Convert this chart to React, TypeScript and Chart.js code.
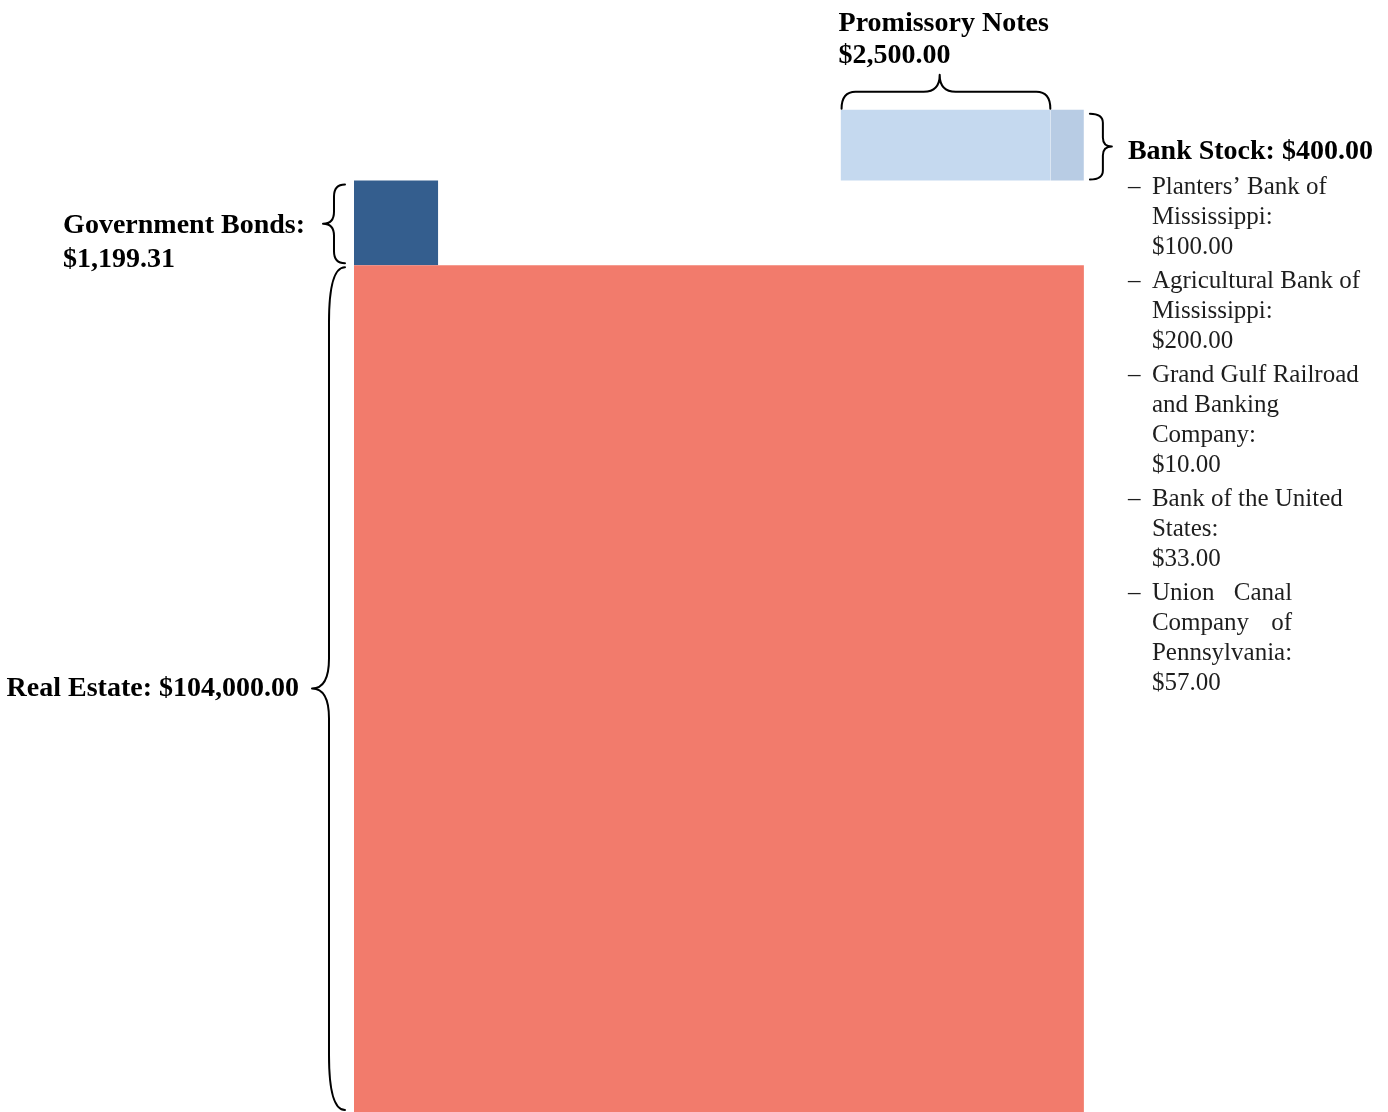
import React, { useEffect, useRef } from 'react';
import { Chart, registerables } from 'chart.js';

Chart.register(...registerables);

// ---------------- data ----------------
const categories = ['Real Estate', 'Government Bonds', 'Promissory Notes', 'Bank Stock'];
const holdingValues = [104000, 1199.31, 2500, 400];

const bankStockLines = [
  ['Planters\u2019 Bank of', 'Mississippi:'],
  ['Agricultural Bank of', 'Mississippi:'],
  ['Grand Gulf Railroad', 'and Banking', 'Company:'],
  ['Bank of the United', 'States:'],
  ['Union Canal', 'Company of', 'Pennsylvania:'],
];
const bankStockValues = [100, 200, 10, 33, 57];
const justifiedBankEntries = [false, false, false, false, true];

// ---------------- styling / layout ----------------
const COLORS = ['#F27B6C', '#345E8E', '#C5D9EF', '#B8CCE4'];
const W = 1388;
const H = 1112;
// area units: 1 unit^2 == $1
const RE_WIDTH = 300;
const TOP_ROW_HEIGHT = 29;
const X_MIN = -145.5;
const X_MAX = 425.0;
const Y_MIN = 0;
const Y_MAX = 455.2;
const FONT = "'Liberation Serif', 'Times New Roman', serif";

function money(v: number) {
  return '$' + v.toLocaleString('en-US', { minimumFractionDigits: 2, maximumFractionDigits: 2 });
}

function computeBlocks() {
  const [re, bonds, notes, bank] = holdingValues;
  const reH = re / RE_WIDTH;
  const side = Math.sqrt(bonds);
  const rowW = (notes + bank) / TOP_ROW_HEIGHT;
  const notesW = notes / TOP_ROW_HEIGHT;
  const rowY0 = reH + side;
  return [
    { x0: 0, x1: RE_WIDTH, y0: 0, y1: reH },
    { x0: 0, x1: side, y0: reH, y1: reH + side },
    { x0: RE_WIDTH - rowW, x1: RE_WIDTH - rowW + notesW, y0: rowY0, y1: rowY0 + TOP_ROW_HEIGHT },
    { x0: RE_WIDTH - rowW + notesW, x1: RE_WIDTH, y0: rowY0, y1: rowY0 + TOP_ROW_HEIGHT },
  ];
}

type Pt = [number, number];

function drawBrace(
  ctx: CanvasRenderingContext2D,
  ax: number, ay: number, bx: number, by: number,
  nx: number, ny: number,
  s: number, t: number, r: number, rt: number, tipFrac = 0.5
): Pt {
  const L = Math.hypot(bx - ax, by - ay);
  const ex = (bx - ax) / L;
  const ey = (by - ay) / L;
  const P = (u: number, v: number): Pt => [ax + u * ex + v * nx, ay + u * ey + v * ny];
  const um = L * tipFrac;
  const q = (c: Pt, e: Pt) => ctx.quadraticCurveTo(c[0], c[1], e[0], e[1]);
  const l = (e: Pt) => ctx.lineTo(e[0], e[1]);
  ctx.save();
  ctx.beginPath();
  const p0 = P(0, 0);
  ctx.moveTo(p0[0], p0[1]);
  q(P(0, s), P(r, s));
  l(P(um - rt, s));
  q(P(um, s), P(um, t));
  q(P(um, s), P(um + rt, s));
  l(P(L - r, s));
  q(P(L, s), P(L, 0));
  ctx.strokeStyle = '#000';
  ctx.lineWidth = 2;
  ctx.lineJoin = 'round';
  ctx.lineCap = 'round';
  ctx.stroke();
  ctx.restore();
  return P(um, t);
}

const blocks = computeBlocks();

const overlayPlugin = {
  id: 'overlayLabels',
  afterDatasetsDraw(chart: any) {
    const { ctx } = chart;
    const xs = chart.scales.x;
    const ys = chart.scales.y;
    const px = blocks.map((b) => ({
      l: xs.getPixelForValue(b.x0),
      r: xs.getPixelForValue(b.x1),
      t: ys.getPixelForValue(b.y1),
      b: ys.getPixelForValue(b.y0),
    }));
    const [re, bo, no, ba] = px;

    // braces
    const reTip = drawBrace(ctx, re.l - 9, re.t + 2, re.l - 9, re.b - 2, -1, 0, 16, 33, 55, 30);
    const boTip = drawBrace(ctx, bo.l - 9, bo.t + 4, bo.l - 9, bo.b - 2, -1, 0, 11, 22, 12, 12);
    const noTip = drawBrace(ctx, no.l + 1, no.t - 1, no.r, no.t - 1, 0, -1, 17, 34, 14, 16, 0.47);
    const baTip = drawBrace(ctx, ba.r + 6, ba.t + 4, ba.r + 6, ba.b - 1, 1, 0, 13, 22, 9, 9);

    ctx.save();
    ctx.fillStyle = '#000';
    ctx.textBaseline = 'middle';
    ctx.font = `bold 28px ${FONT}`;

    // Real estate
    ctx.textAlign = 'right';
    ctx.fillText(`${categories[0]}: ${money(holdingValues[0])}`, reTip[0] - 13, reTip[1]);

    // Government bonds
    ctx.textAlign = 'left';
    const gb1 = `${categories[1]}:`;
    const gbLeft = boTip[0] - 18 - ctx.measureText(gb1).width;
    ctx.fillText(gb1, gbLeft, boTip[1] + 2);
    ctx.fillText(money(holdingValues[1]), gbLeft, boTip[1] + 36);

    // Promissory notes
    ctx.fillText(categories[2], no.l - 2, noTip[1] - 51);
    ctx.fillText(money(holdingValues[2]), no.l - 2, noTip[1] - 19);

    // Bank stock
    const bsLeft = baTip[0] + 16;
    const bsY = baTip[1] + 5;
    ctx.fillText(`${categories[3]}: ${money(holdingValues[3])}`, bsLeft, bsY);

    ctx.font = `25px ${FONT}`;
    ctx.fillStyle = '#1e1e1e';
    let y = bsY + 36;
    bankStockLines.forEach((lines, i) => {
      ctx.textAlign = 'left';
      ctx.fillText('\u2013', bsLeft, y);
      const tx = bsLeft + 24;
      const target = Math.max(...lines.map((ln) => ctx.measureText(ln).width));
      lines.forEach((ln, j) => {
        const words = ln.split(' ');
        if (justifiedBankEntries[i] && j < lines.length - 1 && words.length > 1) {
          const ws = words.map((w) => ctx.measureText(w).width);
          const sum = ws.reduce((a, b) => a + b, 0);
          const gap = (target - sum) / (words.length - 1);
          let cx = tx;
          words.forEach((w, k) => {
            ctx.fillText(w, cx, y);
            cx += ws[k] + gap;
          });
        } else {
          ctx.fillText(ln, tx, y);
        }
        y += 30;
      });
      ctx.fillText(money(bankStockValues[i]), tx, y);
      y += 34;
    });
    ctx.restore();
  },
};

export default function App() {
  const canvasRef = useRef<HTMLCanvasElement | null>(null);

  useEffect(() => {
    document.body.style.margin = '0';
    document.body.style.overflow = 'hidden';
    const canvas = canvasRef.current;
    if (!canvas) return;
    const datasets = blocks.map((b, i) => ({
      label: categories[i],
      data: [
        { x: b.x0, y: b.y1 },
        { x: b.x1, y: b.y1 },
      ],
      fill: { value: b.y0 },
      backgroundColor: COLORS[i],
      borderColor: 'rgba(0,0,0,0)',
      borderWidth: 0,
      pointRadius: 0,
      pointHoverRadius: 0,
      tension: 0,
    }));
    const chart = new Chart(canvas, {
      type: 'line',
      data: { datasets } as any,
      options: {
        animation: false,
        responsive: false,
        devicePixelRatio: 1,
        events: [],
        layout: { padding: 0 },
        plugins: {
          legend: { display: false },
          tooltip: { enabled: false },
          title: { display: false },
        },
        scales: {
          x: { type: 'linear', min: X_MIN, max: X_MAX, display: false },
          y: { type: 'linear', min: Y_MIN, max: Y_MAX, display: false },
        },
      } as any,
      plugins: [overlayPlugin],
    });
    return () => chart.destroy();
  }, []);

  return (
    <div style={{ width: W, height: H, background: '#fff' }}>
      <canvas ref={canvasRef} width={W} height={H} style={{ display: 'block' }} />
    </div>
  );
}
